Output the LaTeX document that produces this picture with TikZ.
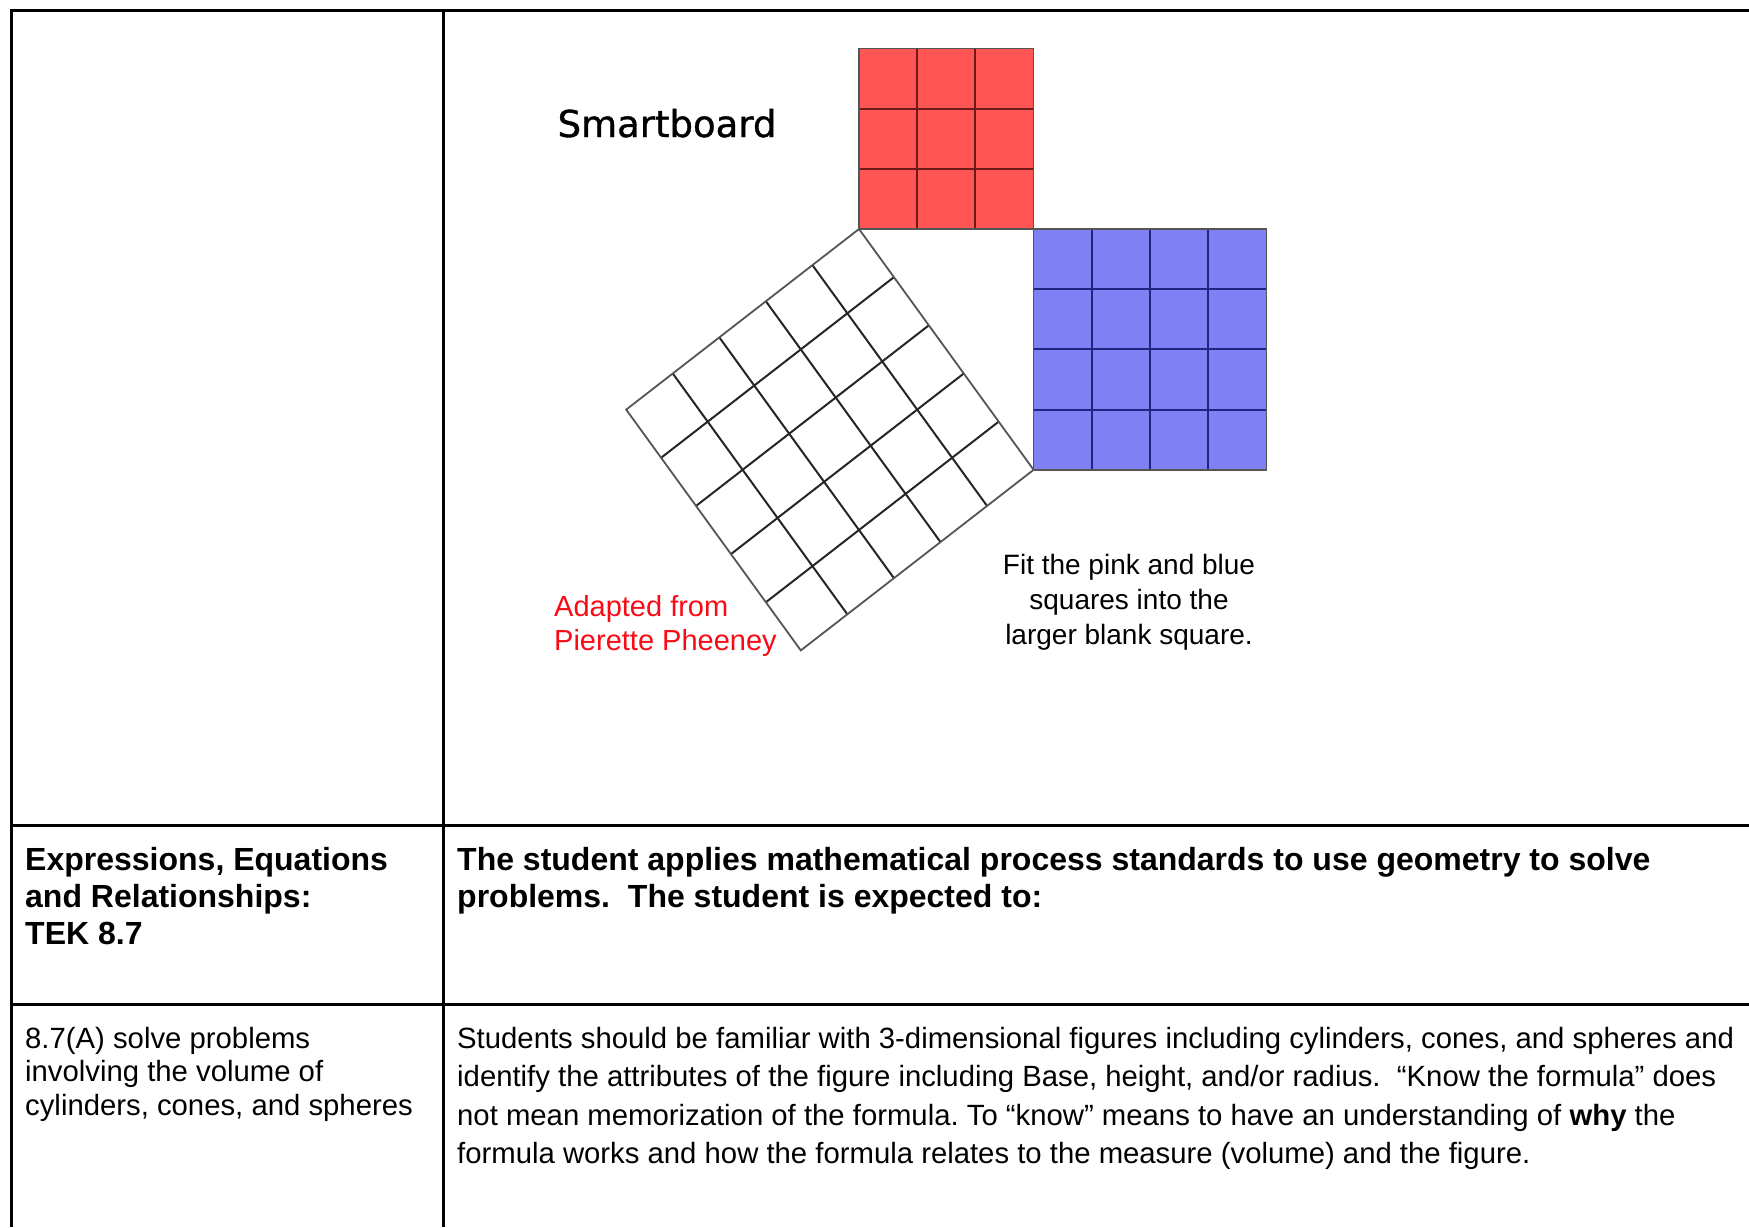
\documentclass[tikz,border=0pt]{standalone}
\usepackage{fontspec}
\setmainfont{Liberation Sans}
\newfontfamily\comicf[FakeBold=1]{DejaVu Sans}
\definecolor{redfill}{RGB}{255,85,85}
\definecolor{bluefill}{RGB}{128,128,245}
\definecolor{redline}{RGB}{110,25,25}
\definecolor{blueline}{RGB}{35,35,130}
\definecolor{edgegray}{RGB}{85,85,85}
\definecolor{txtred}{RGB}{250,10,20}
\tikzset{
  tabline/.style={line width=3pt, black},
  bodytxt/.style={font=\fontsize{29.3}{34}\selectfont, anchor=base west, inner sep=0pt},
  hdrtxt/.style={font=\bfseries\fontsize{32}{37}\selectfont, anchor=base west, inner sep=0pt},
  notetxt/.style={font=\fontsize{28}{33}\selectfont, anchor=base, inner sep=0pt},
  credittxt/.style={font=\fontsize{29}{34}\selectfont, anchor=base west, inner sep=0pt, text=txtred},
  gridline/.style={line width=2pt},
  outline/.style={line width=1.6pt, draw=edgegray},
}
\frenchspacing
\begin{document}
\begin{tikzpicture}[x=1pt,y=-1pt]
\useasboundingbox[fill=white] (0,0) rectangle (1749,1227);
% table
\draw[tabline] (1749,10.5) -- (11,10.5) -- (11,1227);
\draw[tabline] (443,10.5) -- (443,1227);
\draw[tabline] (11,825) -- (1749,825);
\draw[tabline] (11,1004) -- (1749,1004);

% squares
\begin{scope}[shift={(859,229)}, x={(58.2pt,0pt)}, y={(0pt,-60.2pt)}]
  % red 3x3
  \fill[redfill] (0,-3) rectangle (3,0);
  \foreach \i in {1,2} {
    \draw[gridline, draw=redline] (\i,-3) -- (\i,0);
    \draw[gridline, draw=redline] (0,-\i) -- (3,-\i);
  }
  \draw[outline] (0,-3) rectangle (3,0);
  % blue 4x4
  \fill[bluefill] (3,0) rectangle (7,4);
  \foreach \i in {1,2,3} {
    \draw[gridline, draw=blueline] (3+\i,0) -- (3+\i,4);
    \draw[gridline, draw=blueline] (3,\i) -- (7,\i);
  }
  \draw[outline] (3,0) rectangle (7,4);
  % white tilted 5x5
  \foreach \i in {1,2,3,4} {
    \draw[gridline, draw=black!85] ({0.6*\i},{0.8*\i}) -- ({-4+0.6*\i},{3+0.8*\i});
    \draw[gridline, draw=black!85] ({-0.8*\i},{0.6*\i}) -- ({3-0.8*\i},{4+0.6*\i});
  }
  \draw[outline, line width=1.8pt] (0,0) -- (3,4) -- (-1,7) -- (-4,3) -- cycle;
\end{scope}

% labels in the picture
\node[font=\comicf\fontsize{37}{42}\selectfont, anchor=base, inner sep=0pt] (smart) at (667,137) {Smartboard};
\node[credittxt] (cr1) at (554,616) {Adapted from};
\node[credittxt] (cr2) at (554,650) {Pierette Pheeney};
\node[notetxt] (fit1) at (1129,574) {Fit the pink and blue};
\node[notetxt] (fit2) at (1129,609) {squares into the};
\node[notetxt] (fit3) at (1129,644) {larger blank square.};

% header row
\node[hdrtxt] (h1) at (25,870) {Expressions, Equations};
\node[hdrtxt] (h2) at (25,907) {and Relationships:};
\node[hdrtxt] (h3) at (25,944) {TEK 8.7};
\node[hdrtxt] (s1) at (457,870) {The student applies mathematical process standards to use geometry to solve};
\node[hdrtxt] (s2) at (457,907) {problems.\hspace{0.28em} The student is expected to:};

% third row
\node[bodytxt] (a1) at (25,1048) {8.7(A) solve problems};
\node[bodytxt] (a2) at (25,1081.5) {involving the volume of};
\node[bodytxt] (a3) at (25,1115) {cylinders, cones, and spheres};
\node[bodytxt] (b1) at (457,1048) {Students should be familiar with 3-dimensional figures including cylinders, cones, and spheres and};
\node[bodytxt] (b2) at (457,1086.5) {identify the attributes of the figure including Base, height, and/or radius.\hspace{0.28em} “Know the formula” does};
\node[bodytxt] (b3) at (457,1125) {not mean memorization of the formula. To “know” means to have an understanding of \textbf{why} the};
\node[bodytxt] (b4) at (457,1163.5) {formula works and how the formula relates to the measure (volume) and the figure.};
\end{tikzpicture}
\end{document}
